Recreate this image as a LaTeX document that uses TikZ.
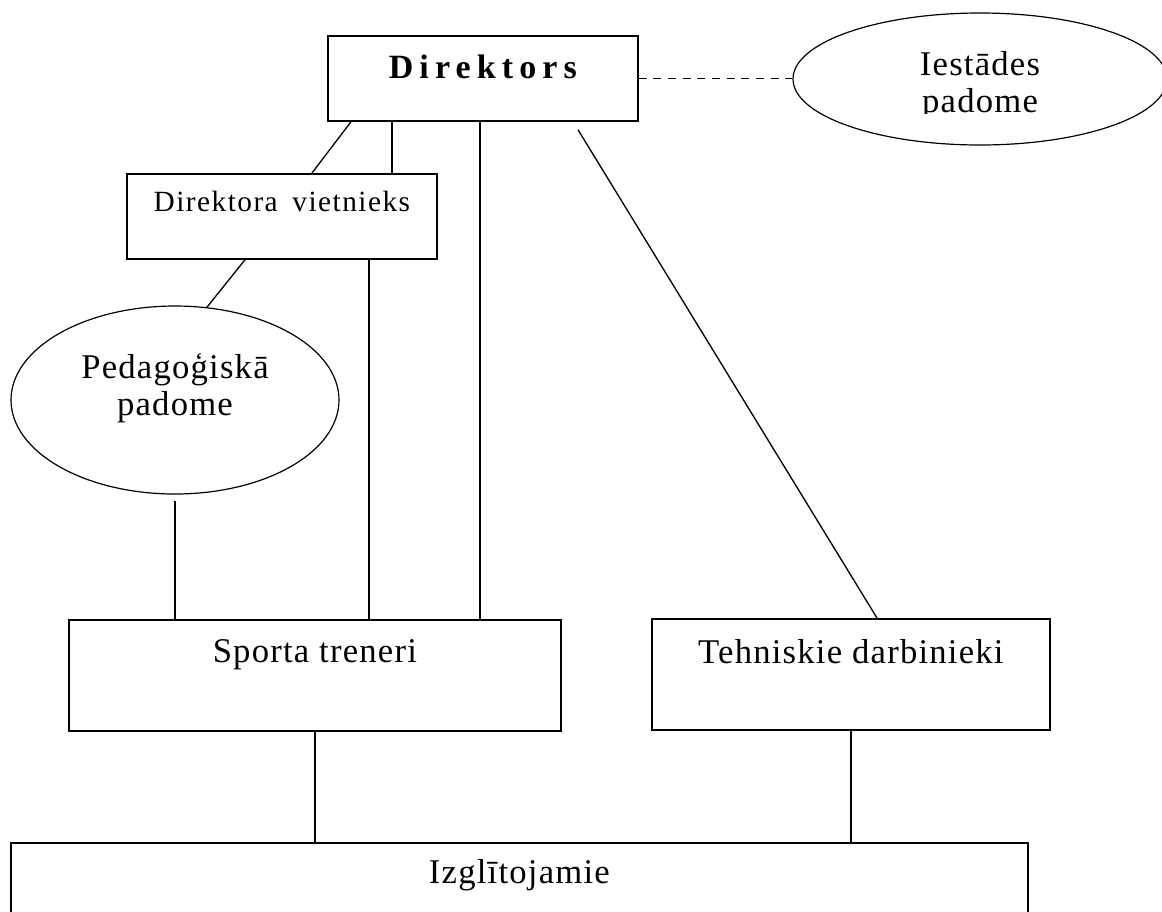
\documentclass[tikz,border=0pt]{standalone}
\usepackage{fontspec}
\setmainfont{Liberation Serif}[LetterSpace=3.5]
\newfontfamily\spacedfont[LetterSpace=18]{Liberation Serif}
\newfontfamily\vietfont[LetterSpace=5]{Liberation Serif}
\usetikzlibrary{shapes.geometric}

\begin{document}
\begin{tikzpicture}[x=0.75pt, y=-0.75pt,
        box/.style={draw, rectangle, line width=1.3pt, inner sep=0pt, anchor=north west,
          font=\fontsize{26pt}{27.75pt}\selectfont},
        oval/.style={draw, ellipse, line width=0.9pt, inner sep=0pt},
        ovaltext/.style={align=center, font=\fontsize{26pt}{27.75pt}\selectfont},
        link/.style={line width=1pt}]
        \useasboundingbox (0,0) rectangle (1162,911);
        % boxes
        \node[box, minimum width=232.5pt, text height=32.25pt, text depth=31.5pt,
          font=\fontsize{25.5pt}{30pt}\spacedfont\bfseries] (dir) at (327,35) {Direktors};
        \node[box, minimum width=232.5pt, text height=28.5pt, text depth=35.25pt,
          font=\fontsize{22pt}{26pt}\vietfont] (viet) at (126,173) {Direktora\enspace vietnieks};
        \node[box, minimum width=369pt, text height=32.25pt, text depth=51pt] (sporta) at (68,619) {Sporta treneri};
        \node[box, minimum width=298.5pt, text height=33.75pt, text depth=49.5pt] (tehn) at (651,618) {Tehniskie darbinieki};
        \node[box, minimum width=762.75pt, text height=30.75pt, text depth=60pt] (izgl) at (10,842) {Izglītojamie};
        % ovals
        \node[oval, minimum width=246pt, minimum height=141pt] (ped) at (175,400) {};
        \node[ovaltext] (pedtext) at ([yshift=8.6pt]ped.center) {Pedagoģiskā\\padome};
        \node[oval, minimum width=280.5pt, minimum height=99pt] (iest) at (980,79) {};
        \begin{scope}
          \clip ([yshift=24pt]iest.south -| iest.west) rectangle (iest.north -| iest.east);
          \node[ovaltext] (iesttext) at ([yshift=-4.9pt]iest.center) {Iestādes\\padome};
        \end{scope}
        % links
        \draw[line width=1.2pt, dash pattern=on 6pt off 5pt] (dir.east) -- (dir.east -| iest.west);
        \draw[link] ([xshift=18pt]dir.south west) -- ([xshift=139.5pt]viet.north west);
        \draw[link] ([xshift=48.75pt]dir.south west) -- ([xshift=199.5pt]viet.north west);
        \draw[link] ([xshift=114.75pt]dir.south west) coordinate (d1) -- (d1 |- sporta.north);
        \draw[link] ([xshift=188.25pt, yshift=-6pt]dir.south west) -- ([xshift=169.5pt]tehn.north west);
        \draw[link] ([xshift=89.25pt]viet.south west) -- (ped.71);
        \draw[link] ([xshift=182.25pt]viet.south west) coordinate (v1) -- (v1 |- sporta.north);
        \draw[link] ([yshift=-4.5pt]ped.south) coordinate (p1) -- (p1 |- sporta.north);
        \draw[link] ([xshift=185.25pt]sporta.south west) coordinate (s1) -- (s1 |- izgl.north);
        \draw[link] ([xshift=150pt]tehn.south west) coordinate (t1) -- (t1 |- izgl.north);
\end{tikzpicture}
\end{document}
